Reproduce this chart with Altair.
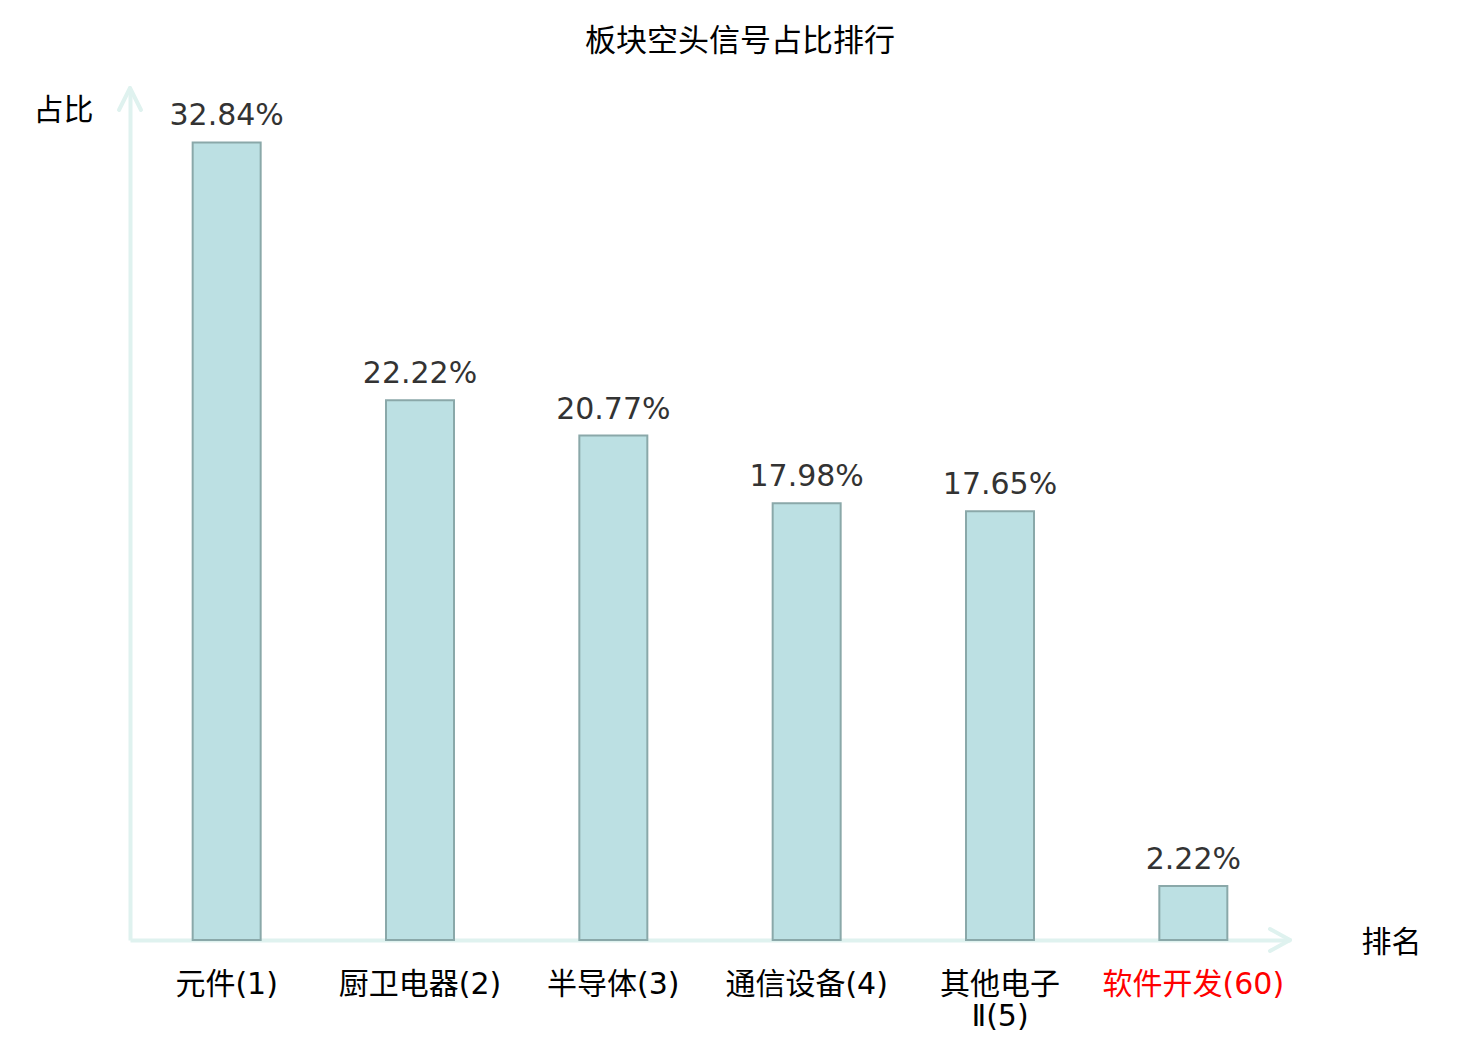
import altair as alt
import pandas as pd

categories = ["元件(1)", "厨卫电器(2)", "半导体(3)", "通信设备(4)", "其他电子\nⅡ(5)", "软件开发(60)"]
values = [32.84, 22.22, 20.77, 17.98, 17.65, 2.22]
highlight = "软件开发(60)"

df = pd.DataFrame({"cat": categories, "val": values})

FONT = "DejaVu Sans, Noto Sans CJK SC"
AXIS_COLOR = "#dff2ef"
W, H = 1160, 850

x_enc = alt.X(
    "cat:N",
    sort=categories,
    scale=alt.Scale(paddingInner=0, paddingOuter=0),
    axis=alt.Axis(
        title="排名",
        titleAngle=0,
        titleX=1261,
        titleY=2,
        titleAlign="center",
        titleBaseline="middle",
        titleFont=FONT,
        titleFontSize=30,
        titleFontWeight="normal",
        titleColor="black",
        labelAngle=0,
        labelFont=FONT,
        labelFontSize=30,
        labelColor=alt.condition(f"datum.value == '{highlight}'", alt.value("red"), alt.value("black")),
        labelExpr="split(datum.label, '\\n')",
        labelLineHeight=32,
        labelPadding=29,
        labelBaseline="top",
        labelLimit=400,
        ticks=False,
        domainColor=AXIS_COLOR,
        domainWidth=4,
    ),
)

y_enc = alt.Y(
    "val:Q",
    scale=alt.Scale(domain=[0, 35], nice=False),
    axis=alt.Axis(
        title="占比",
        titleAngle=0,
        titleX=-67,
        titleY=20,
        titleAlign="center",
        titleBaseline="middle",
        titleFont=FONT,
        titleFontSize=30,
        titleFontWeight="normal",
        titleColor="black",
        labels=False,
        ticks=False,
        grid=False,
        domainColor=AXIS_COLOR,
        domainWidth=4,
    ),
)

bars = alt.Chart(df).mark_bar(
    width=68, fill="#bce0e3", stroke="#8aa8a9", strokeWidth=2
).encode(x=x_enc, y=y_enc)

labels = alt.Chart(df).transform_calculate(
    lbl="format(datum.val, '.2f') + '%'"
).mark_text(
    font=FONT, fontSize=30, color="#333333", baseline="alphabetic", dy=-17
).encode(x=alt.X("cat:N", sort=categories), y="val:Q", text="lbl:N")

one = pd.DataFrame({"k": [0]})
arrow_style = dict(color=AXIS_COLOR, strokeWidth=4, strokeCap="round")
arrows = [
    alt.Chart(one).mark_rule(**arrow_style).encode(
        x=alt.value(W), y=alt.value(H), x2=alt.value(W - 20), y2=alt.value(H - 11)),
    alt.Chart(one).mark_rule(**arrow_style).encode(
        x=alt.value(W), y=alt.value(H), x2=alt.value(W - 20), y2=alt.value(H + 11)),
    alt.Chart(one).mark_rule(**arrow_style).encode(
        x=alt.value(0), y=alt.value(-2), x2=alt.value(-11), y2=alt.value(20)),
    alt.Chart(one).mark_rule(**arrow_style).encode(
        x=alt.value(0), y=alt.value(-2), x2=alt.value(11), y2=alt.value(20)),
]

chart = alt.layer(bars, labels, *arrows).properties(
    width=W,
    height=H,
    title=alt.TitleParams(
        "板块空头信号占比排行",
        font=FONT,
        fontSize=31,
        fontWeight="normal",
        color="black",
        anchor="middle",
        dx=30,
        offset=28,
    ),
    autosize=alt.AutoSizeParams(type="none"),
    padding={"left": 122, "top": 82, "right": 180, "bottom": 100},
).configure(background="white").configure_view(strokeWidth=0)

chart.save("out.html", embed_options={"renderer": "svg", "actions": False})
